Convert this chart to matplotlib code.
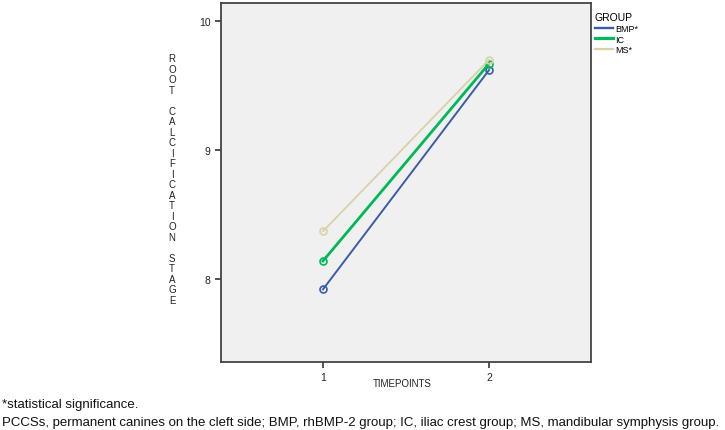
import matplotlib
matplotlib.use("Agg")
import matplotlib.pyplot as plt
from matplotlib.lines import Line2D

timepoints = [1, 2]
groups = ["BMP*", "IC", "MS*"]
bmp = [7.92, 9.62]
ic = [8.14, 9.67]
ms = [8.37, 9.70]
colors = ["#3a5ca8", "#00b856", "#d9d2a6"]
widths = [1.4, 2.0, 1.3]
yticks = [8, 9, 10]

plt.rcParams['font.family'] = ['Liberation Sans', 'DejaVu Sans']
fig = plt.figure(figsize=(7.25, 4.31), dpi=100)
ax = fig.add_axes([221/725, 1 - 363/431, (591-221)/725, (363-4)/431])
ax.set_facecolor("#f0f0f0")
handles = []
for vals, c, lw, g in zip([bmp, ic, ms], colors, widths, groups):
    ax.plot(timepoints, vals, color=c, lw=lw, marker='o', ms=5,
            mfc='none', mec=c, mew=1.2)
    handles.append(Line2D([], [], color=c, lw=lw + 0.3, label=g))
ax.set_xlim(0.386, 2.614)
ax.set_ylim(7.357, 10.14)
ax.set_xticks(timepoints)
ax.set_yticks(yticks)
ax.tick_params(labelsize=7.5, length=4, width=1.2, color="#333333", labelcolor="#222222")
for s in ax.spines.values():
    s.set_color("#444444")
    s.set_linewidth(1.3)
ax.set_xlabel("TIMEPOINTS", fontsize=7, color="#222222")
ax.xaxis.set_label_coords(0.49, -0.045)

ylab = "\n".join(list("ROOT CALCIFICATION STAGE"))
fig.text(172/725, 1 - 180/431, ylab, fontsize=7, ha='center', va='center',
         linespacing=1.06, color="#222222")

leg = ax.legend(handles=handles, title="GROUP", loc='upper left',
                bbox_to_anchor=(1.005, 0.98),
                frameon=False, fontsize=6.5, title_fontsize=7.5,
                handlelength=2.0, handletextpad=0.3, labelspacing=0.2,
                borderaxespad=0.1, borderpad=0.1)
leg._legend_box.align = "left"

fig.text(2/725, 1 - 405/431, "*statistical significance.", fontsize=9.55,
         va='center', color="#111111")
fig.text(2/725, 1 - 423/431,
         "PCCSs, permanent canines on the cleft side; BMP, rhBMP-2 group; IC, iliac crest group; MS, mandibular symphysis group.",
         fontsize=9.55, va='center', color="#111111")

fig.savefig("out.png", dpi=100)
